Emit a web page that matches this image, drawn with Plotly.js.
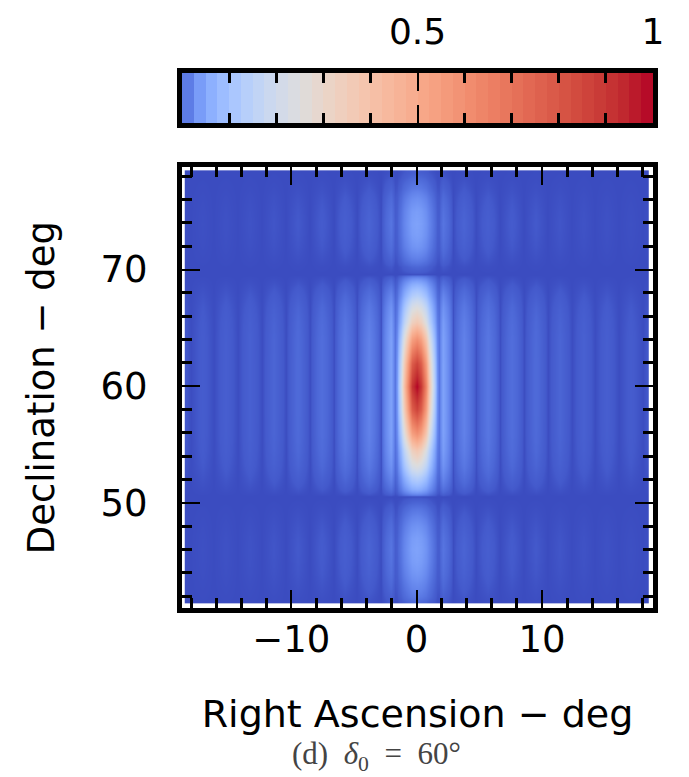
<!DOCTYPE html>
<html><head><meta charset="utf-8">
<script src="https://cdn.plot.ly/plotly-3.0.1.min.js"></script>
<style>html,body{margin:0;padding:0;background:#fff;} #chart{width:689px;height:777px;}</style>
</head><body><div id="chart"></div>
<script>
// Right ascension samples (deg)
const raDeg = [-18.35, -18.05, -17.1, -16.15, -15.2, -14.25, -13.3, -12.35, -11.4, -10.45, -9.5, -8.55, -7.6, -6.65, -5.7, -4.75, -3.8, -2.9, -2.05, -1.75, -1.6, -1.3, -1.0, -0.7, -0.35,
  0,
  0.35, 0.7, 1.0, 1.3, 1.6, 1.75, 2.05, 2.9, 3.8, 4.75, 5.7, 6.65, 7.6, 8.55, 9.5, 10.45, 11.4, 12.35, 13.3, 14.25, 15.2, 16.15, 17.1, 18.05, 18.35];
// main-lobe response along RA
const raMainLobe = [0, 0, 0, 0, 0, 0, 0, 0, 0, 0, 0, 0, 0, 0, 0, 0, 0, 0, 0, 0, 0.03, 0.2, 0.4, 0.64, 0.9,
  1.0,
  0.9, 0.64, 0.4, 0.2, 0.03, 0, 0, 0, 0, 0, 0, 0, 0, 0, 0, 0, 0, 0, 0, 0, 0, 0, 0, 0, 0];
// side-lobe stripes along RA
const raSideLobes = [0.0008, 0.0001, 0.0015, 0.0001, 0.002, 0.0001, 0.0025, 0.0001, 0.0035, 0.0001, 0.005, 0.0001, 0.0065, 0.0001, 0.01, 0.0002, 0.016, 0.0002, 0.045, 0.008, 0.004, 0, 0, 0, 0,
  0,
  0, 0, 0, 0, 0.004, 0.008, 0.045, 0.0002, 0.016, 0.0002, 0.01, 0.0001, 0.0065, 0.0001, 0.005, 0.0001, 0.0035, 0.0001, 0.0025, 0.0001, 0.002, 0.0001, 0.0015, 0.0001, 0.0008];

// Declination samples (deg)
const decDeg = [41.6, 42.0, 43.0, 44.0, 45.0, 46.0, 47.0, 48.0, 49.0, 50.0, 50.6, 51.2, 52.2, 53.2, 54.5, 56.0, 58.0, 60.0, 62.0, 64.0, 65.5, 66.8, 67.8, 68.8, 69.6, 70.3, 71.0, 72.0, 73.0, 74.0, 75.0, 76.0, 77.0, 77.9, 78.3];
// main-lobe response along Dec
const decMainLobe = [0.006, 0.012, 0.022, 0.033, 0.042, 0.046, 0.042, 0.03, 0.015, 0.004, 0.0002, 0.06, 0.14, 0.25, 0.37, 0.6, 0.86, 1.0, 0.86, 0.6, 0.37, 0.25, 0.14, 0.06, 0.0002, 0.004, 0.015, 0.032, 0.042, 0.045, 0.04, 0.027, 0.012, 0.004, 0.002];
// Dec envelope of the RA side-lobe stripes
const decSideEnvelope = [0.03, 0.05, 0.1, 0.15, 0.18, 0.2, 0.18, 0.13, 0.07, 0.02, 0.0, 0.15, 0.4, 0.65, 0.85, 0.97, 1.0, 1.0, 1.0, 0.97, 0.85, 0.65, 0.4, 0.15, 0.0, 0.02, 0.07, 0.14, 0.18, 0.2, 0.17, 0.12, 0.06, 0.02, 0.01];

// Colour-bar levels
const cbLevels = [0.0125, 0.0375, 0.0625, 0.0875, 0.1125, 0.1375, 0.1625, 0.1875, 0.2125, 0.2375,
  0.2625, 0.2875, 0.3125, 0.3375, 0.3625, 0.3875, 0.4125, 0.4375, 0.4625, 0.4875,
  0.5125, 0.5375, 0.5625, 0.5875, 0.6125, 0.6375, 0.6625, 0.6875, 0.7125, 0.7375,
  0.7625, 0.7875, 0.8125, 0.8375, 0.8625, 0.8875, 0.9125, 0.9375, 0.9625, 0.9875];
const cbTickVals = [0.5, 1];
const cbTickText = ['0.5', '1'];
const cbMinorVals = [0.1, 0.2, 0.3, 0.4, 0.6, 0.7, 0.8, 0.9];

// coolwarm colours (evenly spaced), mapped with a square-root stretch
const coolwarm = [[59,76,192],[68,90,204],[77,104,215],[87,117,225],[98,130,234],[108,142,241],[119,154,247],[130,165,251],
  [141,176,254],[152,185,255],[163,194,255],[174,201,253],[184,208,249],[194,213,244],[204,217,238],[213,219,230],
  [221,221,221],[229,216,209],[236,211,197],[241,204,185],[245,196,173],[247,187,160],[247,177,148],[247,166,135],
  [244,154,123],[241,141,111],[236,127,99],[229,112,88],[222,96,77],[213,80,66],[203,62,56],[192,40,47],[180,4,38]];
const colorscale = coolwarm.map((c, i) => {
  const t = i / (coolwarm.length - 1);
  return [t * t, 'rgb(' + c.join(',') + ')'];
});

const zGrid = decDeg.map((_, j) => raDeg.map((_, i) =>
  raMainLobe[i] * decMainLobe[j] + raSideLobes[i] * decSideEnvelope[j]));
const cbZ = [cbLevels];

const traces = [
  {type: 'heatmap', x: raDeg, y: decDeg, z: zGrid, colorscale: colorscale, zmin: 0, zmax: 1,
   zsmooth: 'best', showscale: false, xaxis: 'x', yaxis: 'y', hoverinfo: 'skip'},
  {type: 'heatmap', x: cbLevels, y: [0.5], z: cbZ, colorscale: colorscale, zmin: 0, zmax: 1,
   zsmooth: false, showscale: false, xaxis: 'x2', yaxis: 'y2', hoverinfo: 'skip'}
];

const axisCommon = {
  showline: true, linewidth: 5, linecolor: '#000', mirror: 'ticks',
  ticks: 'inside', ticklen: 18, tickwidth: 2, tickcolor: '#000',
  showgrid: false, zeroline: false, fixedrange: true
};

const layout = {
  width: 689, height: 777,
  margin: {l: 182, r: 36, t: 73, b: 169, pad: 0},
  paper_bgcolor: '#fff', plot_bgcolor: '#fff',
  showlegend: false,
  font: {family: 'DejaVu Sans', color: '#000', size: 37},
  xaxis: Object.assign({}, axisCommon, {
    domain: [0, 1], anchor: 'y', range: [-18.72, 18.86],
    tickmode: 'linear', tick0: 0, dtick: 10,
    minor: {tick0: 0, dtick: 2, ticks: 'inside', ticklen: 10, tickwidth: 3, tickcolor: '#000', showgrid: false},
    tickfont: {size: 37}, ticklabelstandoff: -5,
    title: {text: 'Right Ascension − deg', font: {size: 38}, standoff: 41}
  }),
  yaxis: Object.assign({}, axisCommon, {
    domain: [0, 0.8237], anchor: 'x', range: [40.99, 78.76],
    tickmode: 'linear', tick0: 0, dtick: 10,
    minor: {tick0: 0, dtick: 2, ticks: 'inside', ticklen: 10, tickwidth: 3, tickcolor: '#000', showgrid: false},
    tickfont: {size: 37}, ticklabelstandoff: 22,
    title: {text: 'Declination − deg', font: {size: 37}, standoff: 36}
  }),
  xaxis2: Object.assign({}, axisCommon, {
    domain: [0, 1], anchor: 'y2', range: [0, 1], side: 'top',
    tickmode: 'array', tickvals: cbTickVals, ticktext: cbTickText,
    minor: {tickmode: 'array', tickvals: cbMinorVals, ticks: 'inside', ticklen: 10, tickwidth: 3, tickcolor: '#000', showgrid: false},
    tickfont: {size: 36}, ticklabelstandoff: 10
  }),
  yaxis2: {
    domain: [0.906, 1], anchor: 'x2', range: [0, 1],
    showline: true, linewidth: 5, linecolor: '#000', mirror: true,
    ticks: '', showticklabels: false, showgrid: false, zeroline: false, fixedrange: true
  },
  annotations: [{
    xref: 'paper', yref: 'paper', x: 0.414, y: -0.276, xanchor: 'center', yanchor: 'middle',
    showarrow: false,
    text: '(d)&nbsp;&nbsp;<i>δ</i><sub>0</sub>&nbsp;&nbsp;=&nbsp;&nbsp;60°',
    font: {family: 'Liberation Serif', size: 31, color: '#444'}
  }]
};

Plotly.newPlot('chart', traces, layout, {displayModeBar: false, staticPlot: true});
</script>
</body></html>
